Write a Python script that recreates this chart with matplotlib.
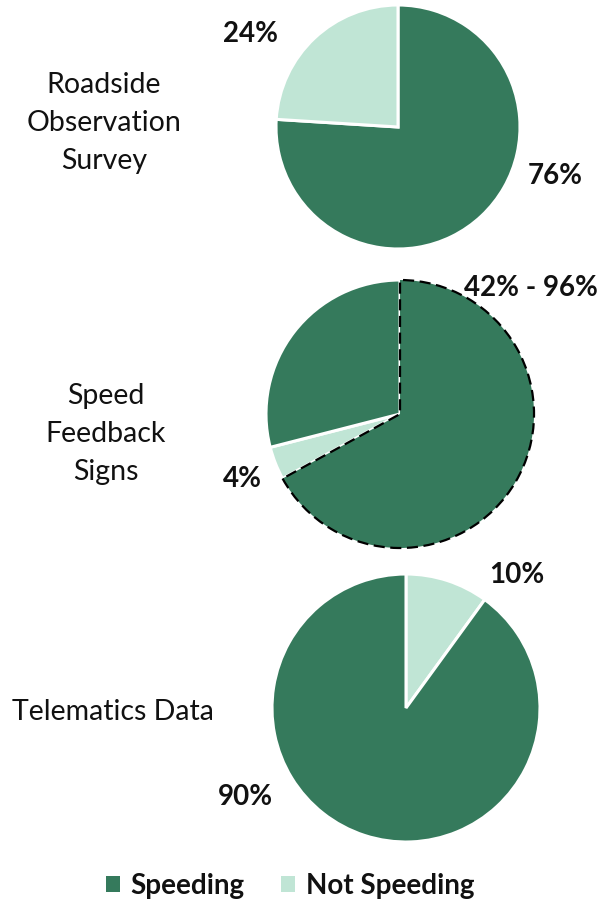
import matplotlib
matplotlib.use("Agg")
import matplotlib.pyplot as plt
from matplotlib.patches import Patch

plt.rcParams['font.family'] = ['Lato', 'DejaVu Sans']

# Data
categories = ["Roadside\nObservation\nSurvey", "Speed\nFeedback\nSigns", "Telematics Data"]
roadside_values = [76, 24]
feedback_values = [67, 4, 29]
telematics_values = [10, 90]
roadside_labels = ["76%", "24%"]
feedback_labels = ["42% - 96%", "4%"]
telematics_labels = ["10%", "90%"]
legend_labels = ["Speeding", "Not Speeding"]

DARK = "#357A5C"
LIGHT = "#C0E5D5"

W, H = 611, 902
fig = plt.figure(figsize=(W / 100, H / 100), dpi=100)
ax = fig.add_axes([0, 0, 1, 1])

def Y(py):
    return H - py

# Pie 1
ax.pie(roadside_values, colors=[DARK, LIGHT], startangle=90, counterclock=False,
       center=(398, Y(127)), radius=122,
       wedgeprops=dict(edgecolor="white", linewidth=2.2), frame=True)

# Pie 2
w2, _ = ax.pie(feedback_values, colors=[DARK, LIGHT, DARK], startangle=90, counterclock=False,
               center=(400, Y(414)), radius=134, explode=[0.03, 0, 0],
               wedgeprops=dict(edgecolor="white", linewidth=2.2), frame=True)
w2[0].set_edgecolor("black")
w2[0].set_linestyle((0, (5, 2.5)))
w2[0].set_linewidth(1.6)
w2[0].set_zorder(5)

# Pie 3
ax.pie(telematics_values, colors=[LIGHT, DARK], startangle=90, counterclock=False,
       center=(406, Y(708)), radius=134,
       wedgeprops=dict(edgecolor="white", linewidth=2.2), frame=True)

ax.set_xlim(0, W)
ax.set_ylim(0, H)
ax.set_aspect("equal")
ax.axis("off")

# Category labels
cat_pos = [(104, 123), (106, 434), (113, 712)]
for txt, (x, y) in zip(categories, cat_pos):
    ax.text(x, Y(y), txt, ha="center", va="center", fontsize=20.5,
            linespacing=1.55, color="#111111")

# Percent labels
pct_style = dict(ha="center", va="center", fontsize=20, fontweight="bold", color="#111111")
ax.text(555, Y(176), roadside_labels[0], **pct_style)
ax.text(251, Y(34), roadside_labels[1], **pct_style)
ax.text(531, Y(288), feedback_labels[0], **pct_style)
ax.text(242, Y(479), feedback_labels[1], **pct_style)
ax.text(517, Y(575), telematics_labels[0], **pct_style)
ax.text(245, Y(797), telematics_labels[1], **pct_style)

handles = [Patch(facecolor=DARK, edgecolor="none"), Patch(facecolor=LIGHT, edgecolor="none")]
leg = fig.legend(handles, legend_labels, loc="center", bbox_to_anchor=(290 / W, 1 - 886 / H),
                 ncol=2, frameon=False, prop=dict(size=20, weight="bold"),
                 handlelength=0.5, handleheight=0.5, handletextpad=0.4, columnspacing=1.3,
                 borderpad=0, borderaxespad=0)
for t in leg.get_texts():
    t.set_color("#111111")

fig.savefig("out.png", dpi=100)
